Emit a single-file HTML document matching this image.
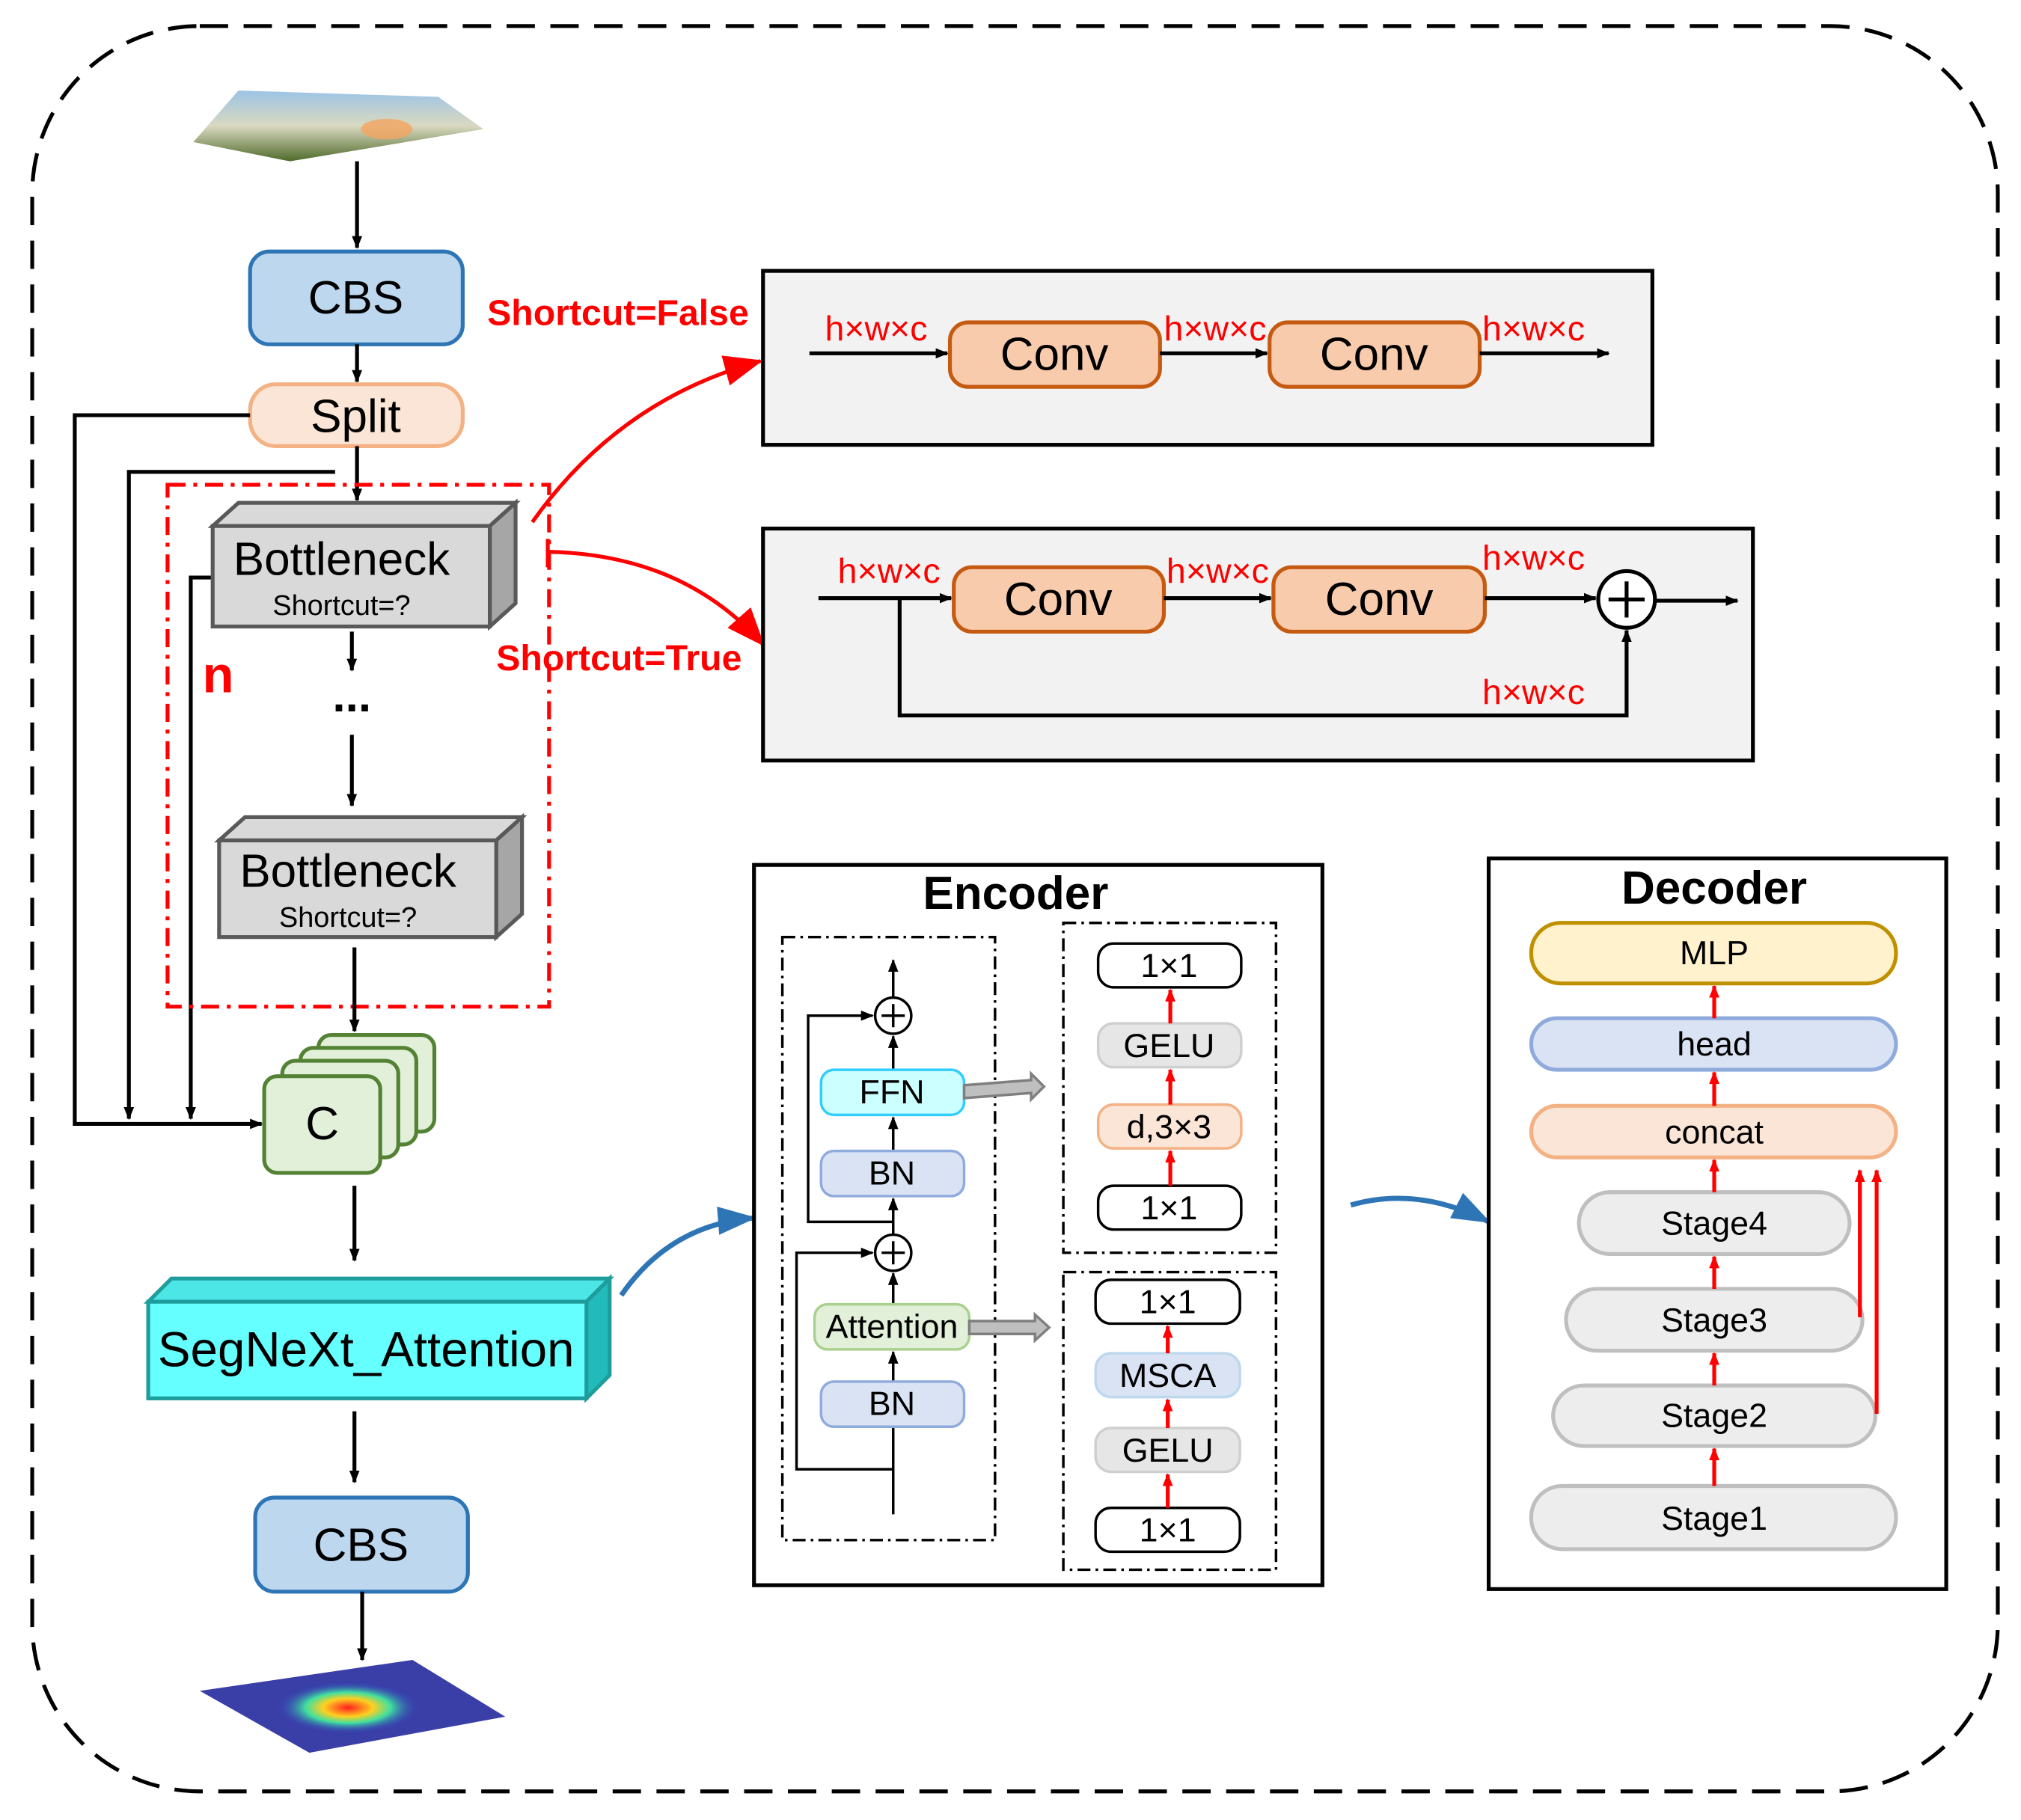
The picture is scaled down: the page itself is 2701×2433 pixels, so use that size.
<!DOCTYPE html>
<html><head><meta charset="utf-8"><style>
html,body{margin:0;padding:0;background:#fff;}
svg{display:block;}
text{font-family:"Liberation Sans",Arial,sans-serif;}
</style></head><body>
<svg width="2701" height="2433" viewBox="0 0 1568 1412" xmlns="http://www.w3.org/2000/svg">
<defs>
<marker id="ab" markerWidth="10" markerHeight="10" refX="9" refY="5" orient="auto" markerUnits="userSpaceOnUse"><path d="M0,1 L10,5 L0,9 z" fill="#000"/></marker>
<marker id="ar" markerWidth="10" markerHeight="10" refX="9" refY="5" orient="auto" markerUnits="userSpaceOnUse"><path d="M0,1 L10,5 L0,9 z" fill="#f00"/></marker>
<marker id="arb" markerWidth="30" markerHeight="30" refX="28" refY="15" orient="auto" markerUnits="userSpaceOnUse"><path d="M0,3 L30,15 L0,27 z" fill="#f00"/></marker>
<marker id="abl" markerWidth="30" markerHeight="30" refX="28" refY="15" orient="auto" markerUnits="userSpaceOnUse"><path d="M0,4 L30,15 L0,26 z" fill="#2e75b6"/></marker>
<linearGradient id="sky" x1="0" y1="0" x2="0" y2="1"><stop offset="0" stop-color="#9cc3e6"/><stop offset="0.5" stop-color="#d9d9c0"/><stop offset="1" stop-color="#4f6a2a"/></linearGradient>
<radialGradient id="heat" cx="0.5" cy="0.5" r="0.5"><stop offset="0" stop-color="#ff2020"/><stop offset="0.35" stop-color="#ffd020"/><stop offset="0.6" stop-color="#40e0a0"/><stop offset="1" stop-color="#3040c0" stop-opacity="0"/></radialGradient>
</defs>

<rect x="25" y="20" width="1525" height="1370" rx="130" fill="none" stroke="#000" stroke-width="3" stroke-dasharray="22,12"/>

<polygon points="185,70 340,75 375,100 225,125 150,110" fill="url(#sky)"/>
<ellipse cx="300" cy="100" rx="20" ry="8" fill="#f4a460" opacity="0.8"/>
<line x1="277" y1="125" x2="277" y2="192" stroke="#000" stroke-width="3" marker-end="url(#ab)"/>

<rect x="194" y="195" width="165" height="72" rx="15" fill="#bdd7ee" stroke="#2e75b6" stroke-width="3"/>
<text x="276" y="243" font-size="36" text-anchor="middle">CBS</text>
<line x1="277" y1="267" x2="277" y2="296" stroke="#000" stroke-width="3" marker-end="url(#ab)"/>
<rect x="194" y="298" width="165" height="48" rx="20" fill="#fbe5d6" stroke="#f4b183" stroke-width="3"/>
<text x="276" y="335" font-size="36" text-anchor="middle">Split</text>

<polyline points="194,322 58,322 58,872 203,872" fill="none" stroke="#000" stroke-width="3" marker-end="url(#ab)"/>
<polyline points="260,366 100,366 100,868" fill="none" stroke="#000" stroke-width="3" marker-end="url(#ab)"/>
<line x1="277" y1="346" x2="277" y2="388" stroke="#000" stroke-width="3" marker-end="url(#ab)"/>
<polyline points="165,448 148,448 148,868" fill="none" stroke="#000" stroke-width="3" marker-end="url(#ab)"/>

<rect x="130" y="376" width="296" height="405" fill="none" stroke="#f00" stroke-width="3" stroke-dasharray="14,6,3,6"/>

<polygon points="165,408 185,390 400,390 380,408" fill="#d9d9d9" stroke="#595959" stroke-width="3"/>
<polygon points="380,408 400,390 400,468 380,486" fill="#a6a6a6" stroke="#595959" stroke-width="3"/>
<rect x="165" y="408" width="215" height="78" fill="#d9d9d9" stroke="#595959" stroke-width="3"/>
<text x="265" y="446" font-size="36" text-anchor="middle">Bottleneck</text>
<text x="265" y="477" font-size="22" text-anchor="middle">Shortcut=?</text>
<text x="157" y="537" font-size="40" font-weight="bold" fill="#f00">n</text>
<line x1="273" y1="490" x2="273" y2="520" stroke="#000" stroke-width="3" marker-end="url(#ab)"/>
<text x="273" y="552" font-size="36" font-weight="bold" text-anchor="middle">...</text>
<line x1="273" y1="570" x2="273" y2="625" stroke="#000" stroke-width="3" marker-end="url(#ab)"/>
<polygon points="170,652 190,634 405,634 385,652" fill="#d9d9d9" stroke="#595959" stroke-width="3"/>
<polygon points="385,652 405,634 405,709 385,727" fill="#a6a6a6" stroke="#595959" stroke-width="3"/>
<rect x="170" y="652" width="215" height="75" fill="#d9d9d9" stroke="#595959" stroke-width="3"/>
<text x="270" y="688" font-size="36" text-anchor="middle">Bottleneck</text>
<text x="270" y="719" font-size="22" text-anchor="middle">Shortcut=?</text>
<line x1="275" y1="735" x2="275" y2="800" stroke="#000" stroke-width="3" marker-end="url(#ab)"/>

<rect x="247" y="803" width="90" height="75" rx="10" fill="#e2f0d9" stroke="#548235" stroke-width="3"/>
<rect x="233" y="813" width="90" height="75" rx="10" fill="#e2f0d9" stroke="#548235" stroke-width="3"/>
<rect x="219" y="823" width="90" height="75" rx="10" fill="#e2f0d9" stroke="#548235" stroke-width="3"/>
<rect x="205" y="835" width="90" height="75" rx="10" fill="#e2f0d9" stroke="#548235" stroke-width="3"/>
<text x="250" y="884" font-size="36" text-anchor="middle">C</text>
<line x1="275" y1="920" x2="275" y2="978" stroke="#000" stroke-width="3" marker-end="url(#ab)"/>

<polygon points="115,1010 133,992 473,992 455,1010" fill="#4de6e6" stroke="#1f9d9d" stroke-width="3"/>
<polygon points="455,1010 473,992 473,1067 455,1085" fill="#22bbbb" stroke="#1f9d9d" stroke-width="3"/>
<rect x="115" y="1010" width="340" height="75" fill="#66ffff" stroke="#1f9d9d" stroke-width="3"/>
<text x="284" y="1060" font-size="38" text-anchor="middle">SegNeXt_Attention</text>
<line x1="275" y1="1095" x2="275" y2="1150" stroke="#000" stroke-width="3" marker-end="url(#ab)"/>
<rect x="198" y="1162" width="165" height="73" rx="15" fill="#bdd7ee" stroke="#2e75b6" stroke-width="3"/>
<text x="280" y="1211" font-size="36" text-anchor="middle">CBS</text>
<line x1="281" y1="1235" x2="281" y2="1288" stroke="#000" stroke-width="3" marker-end="url(#ab)"/>
<polygon points="155,1312 320,1288 392,1332 240,1360" fill="#3a3fa8"/>
<ellipse cx="270" cy="1325" rx="55" ry="20" fill="url(#heat)"/>

<text x="378" y="252" font-size="28" font-weight="bold" fill="#f00">Shortcut=False</text>
<path d="M413,405 Q480,310 590,280" fill="none" stroke="#f00" stroke-width="3" marker-end="url(#arb)"/>
<rect x="592" y="210" width="690" height="135" fill="#f2f2f2" stroke="#000" stroke-width="3"/>
<line x1="628" y1="274" x2="735" y2="274" stroke="#000" stroke-width="3" marker-end="url(#ab)"/>
<rect x="737" y="250" width="163" height="50" rx="14" fill="#f8cbad" stroke="#c55a11" stroke-width="3"/>
<text x="818" y="287" font-size="36" text-anchor="middle">Conv</text>
<line x1="900" y1="274" x2="983" y2="274" stroke="#000" stroke-width="3" marker-end="url(#ab)"/>
<rect x="985" y="250" width="163" height="50" rx="14" fill="#f8cbad" stroke="#c55a11" stroke-width="3"/>
<text x="1066" y="287" font-size="36" text-anchor="middle">Conv</text>
<line x1="1148" y1="274" x2="1248" y2="274" stroke="#000" stroke-width="3" marker-end="url(#ab)"/>
<g font-size="27" fill="#f00">
<text x="640" y="264">h×w×c</text>
<text x="903" y="264">h×w×c</text>
<text x="1150" y="264">h×w×c</text>
</g>

<line x1="425" y1="418" x2="425" y2="440" stroke="#f00" stroke-width="3"/>
<path d="M425,428 Q530,430 592,500" fill="none" stroke="#f00" stroke-width="3" marker-end="url(#arb)"/>
<text x="385" y="520" font-size="28" font-weight="bold" fill="#f00">Shortcut=True</text>
<rect x="592" y="410" width="768" height="180" fill="#f2f2f2" stroke="#000" stroke-width="3"/>
<line x1="635" y1="464" x2="738" y2="464" stroke="#000" stroke-width="3" marker-end="url(#ab)"/>
<rect x="740" y="440" width="163" height="50" rx="14" fill="#f8cbad" stroke="#c55a11" stroke-width="3"/>
<text x="821" y="477" font-size="36" text-anchor="middle">Conv</text>
<line x1="903" y1="464" x2="986" y2="464" stroke="#000" stroke-width="3" marker-end="url(#ab)"/>
<rect x="988" y="440" width="164" height="50" rx="14" fill="#f8cbad" stroke="#c55a11" stroke-width="3"/>
<text x="1070" y="477" font-size="36" text-anchor="middle">Conv</text>
<line x1="1152" y1="464" x2="1238" y2="464" stroke="#000" stroke-width="3" marker-end="url(#ab)"/>
<circle cx="1262" cy="465" r="22" fill="#fff" stroke="#000" stroke-width="3"/>
<line x1="1248" y1="465" x2="1276" y2="465" stroke="#000" stroke-width="3"/>
<line x1="1262" y1="451" x2="1262" y2="479" stroke="#000" stroke-width="3"/>
<line x1="1284" y1="466" x2="1348" y2="466" stroke="#000" stroke-width="3" marker-end="url(#ab)"/>
<polyline points="698,464 698,555 1262,555 1262,489" fill="none" stroke="#000" stroke-width="3" marker-end="url(#ab)"/>
<g font-size="27" fill="#f00">
<text x="650" y="452">h×w×c</text>
<text x="905" y="452">h×w×c</text>
<text x="1150" y="442">h×w×c</text>
<text x="1150" y="546">h×w×c</text>
</g>

<path d="M482,1005 Q520,950 585,945" fill="none" stroke="#2e75b6" stroke-width="4" marker-end="url(#abl)"/>
<path d="M1048,935 Q1100,920 1155,948" fill="none" stroke="#2e75b6" stroke-width="4" marker-end="url(#abl)"/>

<rect x="585" y="671" width="441" height="559" fill="#fff" stroke="#000" stroke-width="3"/>
<text x="788" y="705" font-size="36" font-weight="bold" text-anchor="middle">Encoder</text>
<rect x="607" y="727" width="165" height="468" fill="none" stroke="#000" stroke-width="2" stroke-dasharray="10,4,2,4"/>
<rect x="825" y="716" width="165" height="256" fill="none" stroke="#000" stroke-width="2" stroke-dasharray="10,4,2,4"/>
<rect x="825" y="987" width="165" height="231" fill="none" stroke="#000" stroke-width="2" stroke-dasharray="10,4,2,4"/>
<g stroke="#000" stroke-width="2" fill="none">
<line x1="693" y1="1175" x2="693" y2="1107"/>
<line x1="693" y1="1072" x2="693" y2="1049" marker-end="url(#ab)"/>
<line x1="693" y1="1012" x2="693" y2="988" marker-end="url(#ab)"/>
<line x1="693" y1="958" x2="693" y2="930" marker-end="url(#ab)"/>
<line x1="693" y1="893" x2="693" y2="867" marker-end="url(#ab)"/>
<line x1="693" y1="830" x2="693" y2="804" marker-end="url(#ab)"/>
<line x1="693" y1="774" x2="693" y2="745" marker-end="url(#ab)"/>
<polyline points="693,948 627,948 627,788 677,788" marker-end="url(#ab)"/>
<polyline points="693,1140 618,1140 618,972 677,972" marker-end="url(#ab)"/>
</g>
<circle cx="693" cy="788" r="14" fill="#fff" stroke="#000" stroke-width="2"/>
<path d="M684,788 H702 M693,779 V797" stroke="#000" stroke-width="2"/>
<circle cx="693" cy="972" r="14" fill="#fff" stroke="#000" stroke-width="2"/>
<path d="M684,972 H702 M693,963 V981" stroke="#000" stroke-width="2"/>
<rect x="637" y="830" width="111" height="35" rx="10" fill="#ccffff" stroke="#33ccff" stroke-width="2"/>
<text x="692" y="856" font-size="26" text-anchor="middle">FFN</text>
<rect x="637" y="893" width="111" height="35" rx="10" fill="#dae3f3" stroke="#8faadc" stroke-width="2"/>
<text x="692" y="919" font-size="26" text-anchor="middle">BN</text>
<rect x="632" y="1012" width="120" height="35" rx="10" fill="#e2f0d9" stroke="#a9d18e" stroke-width="2"/>
<text x="692" y="1038" font-size="26" text-anchor="middle">Attention</text>
<rect x="637" y="1072" width="111" height="35" rx="10" fill="#dae3f3" stroke="#8faadc" stroke-width="2"/>
<text x="692" y="1098" font-size="26" text-anchor="middle">BN</text>
<polygon points="748,842 800,838 800,833 810,843 800,853 800,848 748,852" fill="#bfbfbf" stroke="#7f7f7f" stroke-width="2"/>
<polygon points="752,1025 803,1025 803,1020 814,1030 803,1040 803,1035 752,1035" fill="#bfbfbf" stroke="#7f7f7f" stroke-width="2"/>

<g font-size="26" text-anchor="middle">
<rect x="852" y="732" width="111" height="34" rx="12" fill="#fff" stroke="#000" stroke-width="2"/><text x="907" y="758">1×1</text>
<rect x="852" y="794" width="111" height="34" rx="12" fill="#e7e6e6" stroke="#d0cece" stroke-width="2"/><text x="907" y="820">GELU</text>
<rect x="852" y="857" width="111" height="34" rx="12" fill="#fbe5d6" stroke="#f4b183" stroke-width="2"/><text x="907" y="883">d,3×3</text>
<rect x="852" y="920" width="111" height="34" rx="12" fill="#fff" stroke="#000" stroke-width="2"/><text x="907" y="946">1×1</text>
<rect x="850" y="993" width="112" height="34" rx="12" fill="#fff" stroke="#000" stroke-width="2"/><text x="906" y="1019">1×1</text>
<rect x="850" y="1050" width="112" height="34" rx="12" fill="#dae3f3" stroke="#bdd7ee" stroke-width="2"/><text x="906" y="1076">MSCA</text>
<rect x="850" y="1108" width="112" height="34" rx="12" fill="#e7e6e6" stroke="#d0cece" stroke-width="2"/><text x="906" y="1134">GELU</text>
<rect x="850" y="1170" width="112" height="34" rx="12" fill="#fff" stroke="#000" stroke-width="2"/><text x="906" y="1196">1×1</text>
</g>
<g stroke="#f00" stroke-width="3">
<line x1="908" y1="794" x2="908" y2="768" marker-end="url(#ar)"/>
<line x1="908" y1="857" x2="908" y2="830" marker-end="url(#ar)"/>
<line x1="908" y1="920" x2="908" y2="893" marker-end="url(#ar)"/>
<line x1="906" y1="1050" x2="906" y2="1029" marker-end="url(#ar)"/>
<line x1="906" y1="1108" x2="906" y2="1086" marker-end="url(#ar)"/>
<line x1="906" y1="1170" x2="906" y2="1144" marker-end="url(#ar)"/>
</g>

<rect x="1155" y="666" width="355" height="567" fill="#fff" stroke="#000" stroke-width="3"/>
<text x="1330" y="701" font-size="36" font-weight="bold" text-anchor="middle">Decoder</text>
<g font-size="26" text-anchor="middle">
<rect x="1188" y="716" width="283" height="47" rx="23" fill="#fff2cc" stroke="#bf9000" stroke-width="3"/><text x="1330" y="748">MLP</text>
<rect x="1188" y="790" width="283" height="40" rx="20" fill="#dae3f3" stroke="#8faadc" stroke-width="3"/><text x="1330" y="819">head</text>
<rect x="1188" y="858" width="283" height="40" rx="20" fill="#fbe5d6" stroke="#f4b183" stroke-width="3"/><text x="1330" y="887">concat</text>
<rect x="1225" y="925" width="210" height="48" rx="24" fill="#ededed" stroke="#bfbfbf" stroke-width="3"/><text x="1330" y="958">Stage4</text>
<rect x="1215" y="1000" width="230" height="48" rx="24" fill="#ededed" stroke="#bfbfbf" stroke-width="3"/><text x="1330" y="1033">Stage3</text>
<rect x="1205" y="1075" width="250" height="47" rx="24" fill="#ededed" stroke="#bfbfbf" stroke-width="3"/><text x="1330" y="1107">Stage2</text>
<rect x="1188" y="1153" width="283" height="49" rx="24" fill="#ededed" stroke="#bfbfbf" stroke-width="3"/><text x="1330" y="1187">Stage1</text>
</g>
<g stroke="#f00" stroke-width="3" fill="none">
<line x1="1330" y1="790" x2="1330" y2="765" marker-end="url(#ar)"/>
<line x1="1330" y1="858" x2="1330" y2="832" marker-end="url(#ar)"/>
<line x1="1330" y1="925" x2="1330" y2="900" marker-end="url(#ar)"/>
<line x1="1330" y1="1000" x2="1330" y2="975" marker-end="url(#ar)"/>
<line x1="1330" y1="1075" x2="1330" y2="1050" marker-end="url(#ar)"/>
<line x1="1330" y1="1153" x2="1330" y2="1124" marker-end="url(#ar)"/>
<polyline points="1443,1022 1443,908" marker-end="url(#ar)"/>
<polyline points="1456,1097 1456,908" marker-end="url(#ar)"/>
</g>
</svg>
</body></html>
